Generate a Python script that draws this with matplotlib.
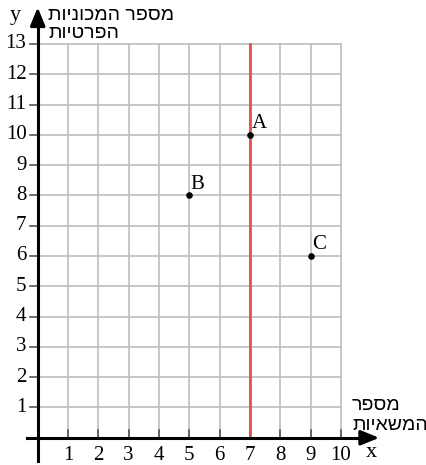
import matplotlib.pyplot as plt

# points on the plane
point_names = ['A', 'B', 'C']
point_x = [7, 5, 9]
point_y = [10, 8, 6]
line_x = 7
x_ticks = list(range(1, 11))
y_ticks = list(range(1, 14))
x_title = ['מספר', 'המשאיות']
y_title = ['מספר המכוניות', 'הפרטיות']


def heb(s):
    # matplotlib has no bidi support, so reverse the line by hand
    return s[::-1]


fig = plt.figure(figsize=(4.27, 4.65), dpi=100)
ax = fig.add_axes([0, 0, 1, 1])
ax.set_xlim(-1.243, 12.836)
ax.set_ylim(-0.898, 14.449)
ax.axis('off')

serif = 'Liberation Serif'
grid_c = '#bdbdbd'

# grid
for gx in range(1, 11):
    ax.plot([gx, gx], [0, 13], color=grid_c, lw=1.2, zorder=1)
for gy in range(1, 14):
    ax.plot([0, 10], [gy, gy], color=grid_c, lw=1.2, zorder=1)

# tick marks
for gx in x_ticks:
    ax.plot([gx, gx], [0, 0.25], color='#555555', lw=1.2, zorder=2)
    ax.text(gx, -0.57, str(gx), ha='center', va='center', fontsize=15,
            family=serif)
for gy in y_ticks:
    ax.plot([-0.26, 0], [gy, gy], color='#555555', lw=1.2, zorder=2)
    ax.text(-0.37, gy, str(gy), ha='right', va='center', fontsize=15,
            family=serif)

# axes with arrows
ax.plot([-0.35, 11.0], [0, 0], color='black', lw=2.2, zorder=3)
ax.plot([0, 0], [-0.77, 13.8], color='black', lw=2.2, zorder=3)
ax.annotate('', xy=(11.35, 0), xytext=(10.6, 0),
            arrowprops=dict(arrowstyle='-|>,head_length=1.1,head_width=0.45',
                            color='black', lw=2.2), zorder=4)
ax.annotate('', xy=(0, 14.3), xytext=(0, 13.5),
            arrowprops=dict(arrowstyle='-|>,head_length=1.1,head_width=0.45',
                            color='black', lw=2.2), zorder=4)

ax.text(11.0, -0.47, 'x', ha='center', va='center', fontsize=16, family=serif)
ax.text(-0.75, 13.95, 'y', ha='center', va='center', fontsize=16, family=serif)

# axis titles, one text per line
for txt, yy in zip(y_title, [13.79, 13.19]):
    ax.text(0.34, yy, heb(txt), ha='left', va='baseline', fontsize=14,
            family='Liberation Sans')
for txt, yy in zip(x_title, [0.917, 0.257]):
    ax.text(10.36, yy, heb(txt), ha='left', va='baseline', fontsize=14,
            family='Liberation Sans')

# vertical line
ax.plot([line_x, line_x], [0, 13], color='#e0504f', lw=2, zorder=2)

# points
ax.scatter(point_x, point_y, s=14, color='black', zorder=5)
for name, px, py in zip(point_names, point_x, point_y):
    ax.text(px + 0.05, py + 0.05, name, ha='left', va='bottom', fontsize=15,
            family=serif, zorder=6)

fig.savefig('out.png', dpi=100)
